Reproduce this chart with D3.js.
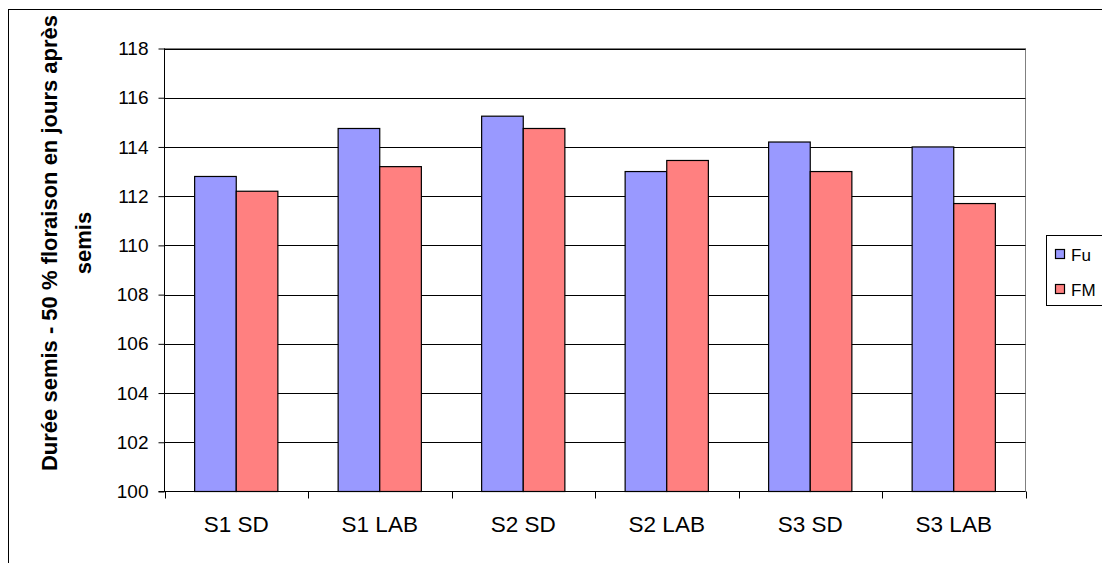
<!DOCTYPE html>
<html>
<head>
<meta charset="utf-8">
<script src="https://cdn.jsdelivr.net/npm/d3@7"></script>
<style>
  html, body { margin: 0; padding: 0; background: #fff; }
  svg { display: block; font-family: Arial, "Liberation Sans", sans-serif; }
</style>
</head>
<body>
<svg id="chart" width="1102" height="563"></svg>
<script>
const categories = ["S1 SD", "S1 LAB", "S2 SD", "S2 LAB", "S3 SD", "S3 LAB"];
const seriesNames = ["Fu", "FM"];
const fuValues = [112.8, 114.75, 115.25, 113.0, 114.2, 114.0];
const fmValues = [112.2, 113.2, 114.75, 113.45, 113.0, 111.7];
const yTicks = [100, 102, 104, 106, 108, 110, 112, 114, 116, 118];
const colors = ["#9999FF", "#FF8080"];
const yTitleLines = ["Durée semis - 50 % floraison en jours après", "semis"];

const svg = d3.select("#chart");
const plot = { left: 164.5, right: 1025.5, top: 48.5, bottom: 491.5 };

// outer frame
svg.append("rect").attr("x", 8.5).attr("y", 9.5).attr("width", 1200).attr("height", 700)
  .attr("fill", "none").attr("stroke", "#000").attr("stroke-width", 1);

const y = d3.scaleLinear().domain([100, 118]).range([plot.bottom, plot.top]);
const x = d3.scaleBand().domain(categories).range([plot.left, plot.right]).padding(0);
const gw = x.bandwidth();
const xs = d3.scaleBand().domain(seriesNames).range([gw * 0.21, gw * 0.79]).padding(0);

// plot area border (gray)
svg.append("rect").attr("x", plot.left).attr("y", plot.top)
  .attr("width", plot.right - plot.left).attr("height", plot.bottom - plot.top)
  .attr("fill", "#fff").attr("stroke", "#808080").attr("stroke-width", 1);

// gridlines
svg.append("g").selectAll("line").data(yTicks.filter(t => t > 100)).join("line")
  .attr("x1", plot.left).attr("x2", plot.right)
  .attr("y1", d => Math.round(y(d)) + 0.5).attr("y2", d => Math.round(y(d)) + 0.5)
  .attr("stroke", "#000").attr("stroke-width", 1);

// bars
const data = categories.map((c, i) => ({ cat: c, vals: [fuValues[i], fmValues[i]] }));
const groups = svg.append("g").selectAll("g").data(data).join("g")
  .attr("transform", d => `translate(${x(d.cat)},0)`);
groups.selectAll("rect").data(d => d.vals.map((v, j) => ({ name: seriesNames[j], v, j })))
  .join("rect")
  .attr("x", d => xs(d.name))
  .attr("width", xs.bandwidth())
  .attr("y", d => y(d.v))
  .attr("height", d => y(100) - y(d.v))
  .attr("fill", d => colors[d.j])
  .attr("stroke", "#000").attr("stroke-width", 1.2);

// y axis
const yAxis = d3.axisLeft(y).tickValues(yTicks).tickSize(6).tickPadding(10).tickFormat(d3.format("d"));
const ya = svg.append("g").attr("transform", `translate(${plot.left},0)`).call(yAxis);
ya.select(".domain").attr("stroke", "#000").attr("d", `M0,${plot.top}V${plot.bottom}`);
ya.selectAll(".tick line").attr("stroke", "#000");
ya.selectAll(".tick text").attr("font-size", 19).attr("fill", "#000")
  .attr("font-family", "Arial, 'Liberation Sans', sans-serif");

// x axis
const xAxis = d3.axisBottom(x).tickSize(0).tickPadding(25);
const xa = svg.append("g").attr("transform", `translate(0,${plot.bottom})`).call(xAxis);
xa.select(".domain").attr("stroke", "#000").attr("d", `M${plot.left - 6},0H${plot.right}`);
xa.selectAll(".tick text").attr("font-size", 22.5).attr("fill", "#000")
  .attr("font-family", "Arial, 'Liberation Sans', sans-serif");
// boundary ticks
const bounds = categories.map(c => x(c)).concat([plot.right]);
xa.append("g").selectAll("line").data(bounds).join("line")
  .attr("x1", d => Math.round(d) + 0.5).attr("x2", d => Math.round(d) + 0.5)
  .attr("y1", 0).attr("y2", 7).attr("stroke", "#000");

// y title
const yt = svg.append("text").attr("transform", "rotate(-90)")
  .attr("text-anchor", "middle").attr("font-weight", "bold").attr("font-size", 22).attr("fill", "#000");
yt.selectAll("tspan").data(yTitleLines).join("tspan")
  .attr("x", -243).attr("y", (d, i) => i === 0 ? 57 : 91).text(d => d);

// legend
const lg = svg.append("g");
lg.append("rect").attr("x", 1046.5).attr("y", 235.5).attr("width", 100).attr("height", 70)
  .attr("fill", "#fff").attr("stroke", "#000");
seriesNames.forEach((n, i) => {
  lg.append("rect").attr("x", 1055.5).attr("y", 249.5 + i * 35).attr("width", 9).attr("height", 9)
    .attr("fill", colors[i]).attr("stroke", "#000").attr("stroke-width", 1.2);
  lg.append("text").attr("x", 1071).attr("y", 261 + i * 35).attr("font-size", 17).attr("fill", "#000").text(n);
});
</script>
</body>
</html>
